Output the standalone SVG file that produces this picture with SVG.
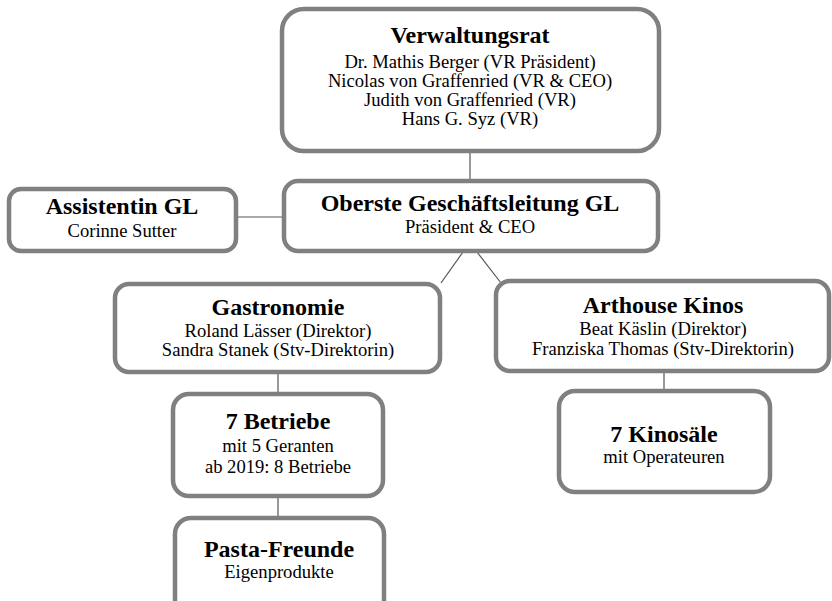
<svg xmlns="http://www.w3.org/2000/svg" width="832" height="601" viewBox="0 0 832 601">
<style>
.box{fill:#fff;stroke:#808080;stroke-width:4.5}
.t{font-family:"Liberation Serif","Times New Roman",serif;font-weight:bold;font-size:24px;fill:#000;text-anchor:middle}
.s{font-family:"Liberation Serif","Times New Roman",serif;font-size:18.6px;fill:#000;text-anchor:middle}
.c{stroke:#555;stroke-width:1.2;fill:none}
</style>
<rect width="832" height="601" fill="#fff"/>
<g id="connectors">
<line class="c" x1="470" y1="152" x2="470" y2="180"/>
<line class="c" x1="237" y1="217" x2="283" y2="217"/>
<line class="c" x1="463" y1="252" x2="441" y2="283"/>
<line class="c" x1="477" y1="252" x2="501" y2="283"/>
<line class="c" x1="278" y1="373" x2="278" y2="394"/>
<line class="c" x1="278" y1="497" x2="278" y2="518"/>
<line class="c" x1="664" y1="372" x2="664" y2="391"/>
</g>
<g id="verwaltungsrat">
<rect class="box" x="282" y="9" width="377" height="142" rx="22"/>
<text class="t" x="470" y="43">Verwaltungsrat</text>
<text class="s" x="470" y="68">Dr. Mathis Berger (VR Präsident)</text>
<text class="s" x="470" y="87">Nicolas von Graffenried (VR &amp; CEO)</text>
<text class="s" x="470" y="106">Judith von Graffenried (VR)</text>
<text class="s" x="470" y="125">Hans G. Syz (VR)</text>
</g>
<g id="geschaeftsleitung">
<rect class="box" x="284" y="181" width="374" height="70" rx="14"/>
<text class="t" x="470" y="211">Oberste Geschäftsleitung GL</text>
<text class="s" x="470" y="233">Präsident &amp; CEO</text>
</g>
<g id="assistentin">
<rect class="box" x="9" y="189" width="227" height="62" rx="12"/>
<text class="t" x="122" y="214">Assistentin GL</text>
<text class="s" x="122" y="237">Corinne Sutter</text>
</g>
<g id="gastronomie">
<rect class="box" x="115" y="284" width="325" height="88" rx="14"/>
<text class="t" x="278" y="315">Gastronomie</text>
<text class="s" x="278" y="337">Roland Lässer (Direktor)</text>
<text class="s" x="278" y="356">Sandra Stanek (Stv-Direktorin)</text>
</g>
<g id="arthouse">
<rect class="box" x="496" y="281" width="333" height="90" rx="14"/>
<text class="t" x="663" y="313">Arthouse Kinos</text>
<text class="s" x="663" y="335">Beat Käslin (Direktor)</text>
<text class="s" x="663" y="355">Franziska Thomas (Stv-Direktorin)</text>
</g>
<g id="betriebe">
<rect class="box" x="173" y="394" width="210" height="102" rx="16"/>
<text class="t" x="278" y="429">7 Betriebe</text>
<text class="s" x="278" y="452">mit 5 Geranten</text>
<text class="s" x="278" y="473">ab 2019: 8 Betriebe</text>
</g>
<g id="kinosaele">
<rect class="box" x="559" y="391" width="211" height="101" rx="16"/>
<text class="t" x="664" y="442">7 Kinosäle</text>
<text class="s" x="664" y="463">mit Operateuren</text>
</g>
<g id="pasta">
<rect class="box" x="175" y="518" width="209" height="100" rx="16"/>
<text class="t" x="279" y="557">Pasta-Freunde</text>
<text class="s" x="279" y="578">Eigenprodukte</text>
</g>
</svg>
